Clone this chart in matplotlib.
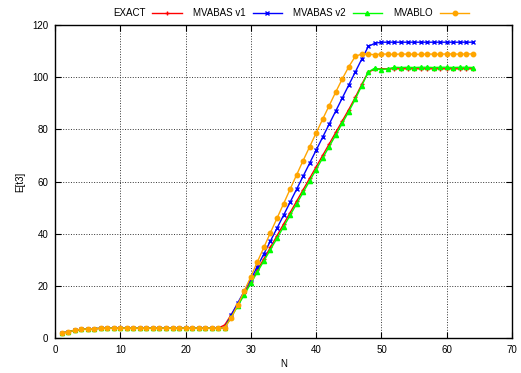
import matplotlib
matplotlib.use("Agg")
import matplotlib.pyplot as plt

plt.rcParams['font.family'] = ['Liberation Sans', 'DejaVu Sans']
plt.rcParams['font.size'] = 7

# valores de N
n = list(range(1, 65))

# parte plana comun (N = 1..25)
low_part = [1.8, 2.4, 2.9, 3.3, 3.5, 3.6, 3.7, 3.75, 3.8, 3.8,
            3.8, 3.8, 3.8, 3.8, 3.8, 3.8, 3.8, 3.8, 3.8, 3.8,
            3.8, 3.8, 3.8, 3.8, 3.8]

# N = 26..64
exact_rise = [5.0, 9.0, 13.0, 17.3, 21.6, 26.0, 30.4, 34.8, 39.2, 43.6,
              48.0, 52.4, 56.8, 61.2, 65.6, 70.0, 74.4, 78.8, 83.2, 87.6,
              92.3, 97.3, 102.0, 103.0] + [103.2] * 15
v1_rise = [4.0, 8.8, 13.5, 18.0, 22.5, 27.4, 32.3, 37.2, 42.1, 47.0,
           52.0, 57.0, 62.0, 67.0, 72.0, 77.0, 82.0, 87.0, 92.0, 97.0,
           102.0, 107.0, 111.8, 113.0] + [113.4] * 15
v2_rise = [4.0, 8.0, 12.3, 16.6, 21.0, 25.3, 29.6, 33.9, 38.2, 42.6,
           47.0, 51.4, 55.8, 60.2, 64.6, 69.0, 73.4, 77.8, 82.3, 86.8,
           91.6, 96.8, 102.0, 103.5, 102.9, 103.2,
           103.8, 103.7, 103.8, 103.7, 103.8, 103.8, 103.7, 103.8, 103.8,
           103.7, 103.8, 103.8, 103.7]
blo_rise = [4.0, 7.7, 12.8, 18.1, 23.5, 29.2, 34.8, 40.4, 45.9, 51.4,
            57.0, 62.5, 68.0, 73.3, 78.6, 83.9, 89.1, 94.3, 99.3, 104.0,
            108.0, 108.9, 108.8, 108.6,
            108.9, 108.8, 108.7, 108.9, 108.8, 108.8, 108.7, 108.9, 108.8,
            108.8, 108.9, 108.9, 108.8, 108.9, 108.9]

exact = low_part + exact_rise
mvabas_v1 = low_part + v1_rise
mvabas_v2 = low_part + v2_rise
mvablo = low_part + blo_rise

fig = plt.figure(figsize=(5.21, 3.73), dpi=100)
ax = fig.add_axes([0.1056, 0.0938, 0.8771, 0.8392])

ax.plot(n, exact, color='#ff0000', marker='+', markersize=3.5, lw=1, label='EXACT')
ax.plot(n, mvabas_v1, color='#0000ff', marker='x', markersize=3, lw=1, label='MVABAS v1')
ax.plot(n, mvabas_v2, color='#00ff00', marker='^', markersize=3, lw=1, label='MVABAS v2')
ax.plot(n, mvablo, color='#ffa500', marker='o', markersize=3.2, lw=1, label='MVABLO')

ax.set_xlim(0, 70)
ax.set_ylim(0, 120)
ax.set_xticks(range(0, 71, 10))
ax.set_yticks(range(0, 121, 20))
ax.tick_params(direction='in', top=True, right=True, length=4, width=0.8, pad=5)
ax.grid(True, linestyle=':', color='#333333', lw=0.7)
for s in ax.spines.values():
    s.set_linewidth(1.0)

ax.set_xlabel('N', labelpad=3)
ax.set_ylabel('E[t3]', labelpad=5)

fig.legend(loc='center', bbox_to_anchor=(0.559, 0.965), ncol=4, frameon=False,
           markerfirst=False, handlelength=3.0, handletextpad=0.7,
           columnspacing=1.2)

fig.savefig('out.png', dpi=100)
